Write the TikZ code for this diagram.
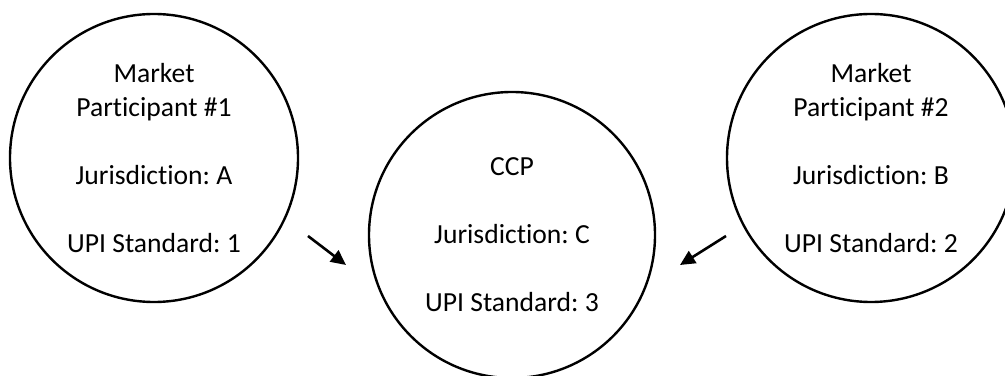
\documentclass[tikz,border=0pt]{standalone}
\usepackage{fontspec}
\setmainfont{Carlito}[Ligatures=NoCommon]
\usepackage{tikz}
\usetikzlibrary{arrows.meta}
\frenchspacing

\begin{document}
\begin{tikzpicture}[x=0.5pt, y=0.5pt,
    party/.style = {draw, circle, line width=1.2pt, inner sep=0pt,
        minimum size=144pt, align=center,
        font=\fontsize{13.8}{17}\selectfont},
    flow/.style = {line width=1.3pt, -{Triangle[length=7.5pt, width=7pt]}}]
    \useasboundingbox (0,0) rectangle (1005,375);
    \node[party] (1) at (154,217) {Market\\Participant \#1\\[17pt]Jurisdiction: A\\[17pt]UPI Standard: 1};
    \node[party, minimum size=143pt] (3) at (512,140) {CCP\\[17pt]Jurisdiction: C\\[17pt]UPI Standard: 3};
    \node[party] (2) at (871,217) {Market\\Participant \#2\\[17pt]Jurisdiction: B\\[17pt]UPI Standard: 2};
    \coordinate (1o) at (308,139);
    \coordinate (1i) at (346,110);
    \coordinate (2o) at (726,139);
    \coordinate (2i) at (680,110);
    \draw[flow] (1o) -- (1i);
    \draw[flow] (2o) -- (2i);
\end{tikzpicture}
\end{document}
